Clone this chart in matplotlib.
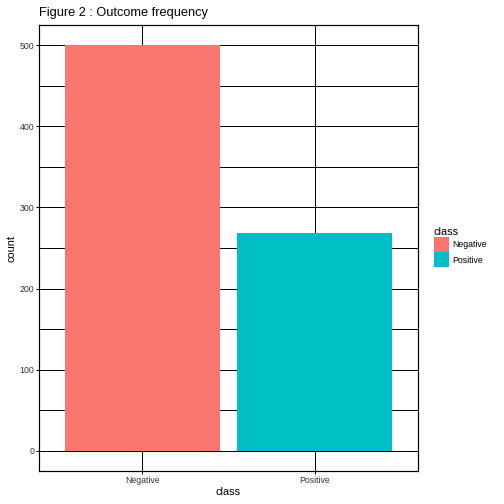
import matplotlib
matplotlib.use('Agg')
import matplotlib.pyplot as plt
from matplotlib.patches import Patch

categories = ['Negative', 'Positive']
counts = [500, 268]
colors = ['#F8766D', '#00BFC4']

plt.rcParams['font.family'] = ['Liberation Sans', 'DejaVu Sans']

fig = plt.figure(figsize=(7, 7), dpi=72)
ax = fig.add_axes([39/504, 1-471/504, (418-39)/504, (471-25)/504])

pos = list(range(1, len(categories)+1))
ax.bar(pos, counts, width=0.9, color=colors, zorder=2)
ax.set_xlim(0.4, len(categories)+0.6)
ax.set_ylim(-25, 525)

ax.set_xticks(pos)
ax.set_xticklabels(categories)
ax.set_yticks(range(0, 501, 100))
ax.set_yticks(range(50, 501, 100), minor=True)
ax.grid(True, which='major', color='black', linewidth=1, zorder=0)
ax.grid(True, which='minor', axis='y', color='black', linewidth=1, zorder=0)
ax.set_axisbelow(True)
ax.tick_params(which='major', length=3, width=1, color='black', labelsize=8.8, labelcolor='#333333', pad=2)
ax.tick_params(which='minor', length=0)
for s in ax.spines.values():
    s.set_color('black')
    s.set_linewidth(1.2)

ax.set_xlabel('class', fontsize=11, labelpad=2)
ax.set_ylabel('count', fontsize=11, labelpad=3)
fig.text(39/504, 1-13/504, 'Figure 2 : Outcome frequency', fontsize=12.8, va='center', ha='left')

handles = [Patch(facecolor=c, edgecolor='none', label=l) for c, l in zip(colors, categories)]
fig.legend(handles=handles, title='class', loc='center left', bbox_to_anchor=(434/504, 0.51),
           frameon=False, fontsize=8.8, title_fontsize=11, handlelength=1.75, handleheight=2.2,
           handletextpad=0.3, labelspacing=0.05, alignment='left', borderaxespad=0, borderpad=0)

fig.savefig('out.png', dpi=72)
